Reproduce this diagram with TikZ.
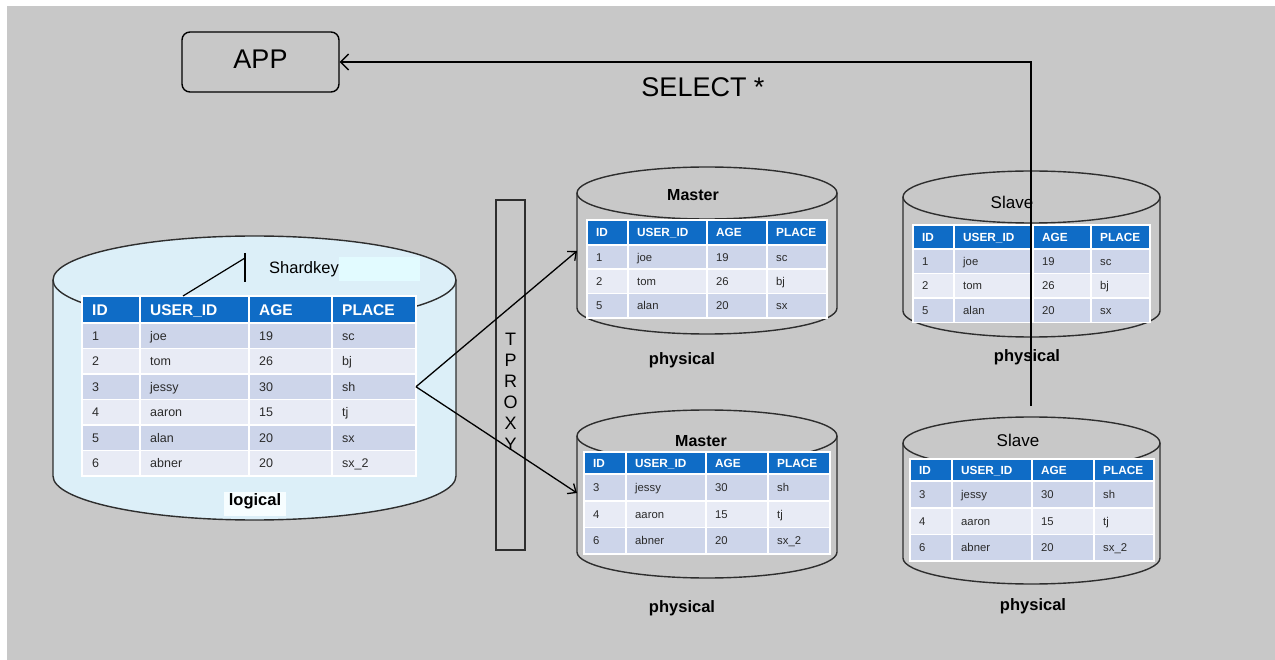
\documentclass[tikz,border=0pt]{standalone}
\usepackage{fontspec}
\setmainfont{Liberation Sans}
\usetikzlibrary{arrows.meta}
\definecolor{bg}{HTML}{C8C8C8}
\definecolor{hdrblue}{HTML}{0F6CC6}
\definecolor{rowA}{HTML}{CDD5EA}
\definecolor{rowB}{HTML}{E8EBF5}
\definecolor{logfill}{HTML}{DCEFF8}
\definecolor{cylc}{HTML}{2E2E2E}
\definecolor{txt}{HTML}{2A2A2A}
\definecolor{skbox}{HTML}{E2FBFF}
\definecolor{logwhite}{HTML}{F6FDFF}
\tikzset{
  cellline/.style={draw=white, line width=1.8pt},
  cylline/.style={draw=cylc, line width=1.4pt},
  conn/.style={draw=black, line width=1.3pt},
  tcell/.style={anchor=base west, inner sep=0pt},
  hdrL/.style={font=\fontsize{15.5}{18}\selectfont\bfseries, text=white},
  bodyL/.style={font=\fontsize{12.5}{15}\selectfont, text=txt},
  hdrS/.style={font=\fontsize{11.8}{14}\selectfont\bfseries, text=white},
  bodyS/.style={font=\fontsize{11.3}{14}\selectfont, text=txt},
  lab/.style={inner sep=0pt, anchor=base, text=black},
  boldlab/.style={lab, font=\fontsize{16.5}{19}\selectfont\bfseries},
  barb/.style={-{Straight Barb[length=7pt,width=12pt]}},
}
\def\setcols#1/#2/#3/#4/#5\relax{\def\xa{#1}\def\xb{#2}\def\xc{#3}\def\xd{#4}\def\xe{#5}}
\def\tpad{9.5}
% #1 name, #2 cols, #3 y0, #4 header height, #5 row height, #6 header style, #7 body style,
% \hfs / \bfs : header and body font sizes (for centring the caps)
\newcommand\mktable[7]{%
  \setcols#2\relax
  \foreach[count=\ci] \l/\r/\t in {\xa/\xb/ID,\xb/\xc/USER\_ID,\xc/\xd/AGE,\xd/\xe/PLACE}{%
    \draw[cellline, fill=hdrblue] (\l,-#3) rectangle (\r,-#3-#4);
    \node[tcell,#6] (#1-h\ci) at (\l+\tpad,-#3-#4/2-0.358*\hfs) {\t};
  }
  \foreach[count=\ri] \a/\b/\c/\d in \tabrows {%
    \pgfmathsetmacro\yt{#3+#4+(\ri-1)*#5}%
    \pgfmathsetmacro\yb{\yt+#5}%
    \pgfmathsetmacro\ym{\yt+#5/2}%
    \pgfmathsetmacro\ybl{\ym+0.358*\bfs}%
    \ifodd\ri\relax\def\rc{rowA}\else\def\rc{rowB}\fi
    \draw[cellline, fill=\rc] (\xa,-\yt) rectangle (\xb,-\yb);
    \draw[cellline, fill=\rc] (\xb,-\yt) rectangle (\xc,-\yb);
    \draw[cellline, fill=\rc] (\xc,-\yt) rectangle (\xd,-\yb);
    \draw[cellline, fill=\rc] (\xd,-\yt) rectangle (\xe,-\yb);
    \node[tcell,#7] (#1-r\ri-c1) at (\xa+\tpad,-\ybl) {\a};
    \node[tcell,#7] (#1-r\ri-c2) at (\xb+\tpad,-\ybl) {\b};
    \node[tcell,#7] (#1-r\ri-c3) at (\xc+\tpad,-\ybl) {\c};
    \node[tcell,#7] (#1-r\ri-c4) at (\xd+\tpad,-\ybl) {\d};
    \coordinate (#1-r\ri-e) at (\xe,-\ym);
  }
}
% #1 x1 #2 x2 #3 y top centre #4 y bottom centre #5 ry #6 fill
\newcommand\cyl[6]{%
  \pgfmathsetmacro\rx{(#2-#1)/2}%
  \pgfmathsetmacro\mx{(#1+#2)/2}%
  \fill[#6] (#1,-#3) -- (#1,-#4) arc[start angle=180,end angle=360,x radius=\rx,y radius=#5] -- (#2,-#3) -- cycle;
  \fill[#6] (\mx,-#3) ellipse[x radius=\rx, y radius=#5];
  \draw[cylline] (#1,-#3) -- (#1,-#4) arc[start angle=180,end angle=360,x radius=\rx,y radius=#5] -- (#2,-#3);
  \draw[cylline] (\mx,-#3) ellipse[x radius=\rx, y radius=#5];
}
\begin{document}
\begin{tikzpicture}[x=1pt,y=1pt]
\useasboundingbox (0,0) rectangle (1275,-660);
\fill[white] (0,0) rectangle (1275,-660);
\fill[bg] (7,-6) rectangle (1275,-660);

% APP
\node[draw=black, line width=1.4pt, rounded corners=8pt, minimum width=157pt, minimum height=60pt,
      font=\fontsize{27}{30}\selectfont, inner sep=0pt, text height=19.3pt, text depth=7pt] (app) at (260.5,-62) {APP};
\node[lab, font=\fontsize{27}{30}\selectfont] (sel) at (703,-96.2) {SELECT *};

% logical cylinder
\cyl{53}{456}{280}{476}{44}{logfill}
\fill[skbox] (339,-257) rectangle (420,-281);
\node[lab, font=\fontsize{16.5}{19}\selectfont] (shardkey) at (304,-273.9) {Shardkey};
\def\tpad{10}\def\hfs{15.5}\def\bfs{12.5}
\def\tabrows{1/joe/19/sc,2/tom/26/bj,3/jessy/30/sh,4/aaron/15/tj,5/alan/20/sx,6/abner/20/sx\_2}
\mktable{L}{82/140/249/332/416}{296}{27}{25.5}{hdrL}{bodyL}
\coordinate (sktop) at (245,-253);
\coordinate (skbot) at (245,-282);
\coordinate (skjoin) at (245,-258);
\coordinate (skkey) at (183,-296);
\draw[black, line width=1.2pt] (sktop) -- (skbot);
\draw[black, line width=1.2pt] (skjoin) -- (skkey);
\fill[logwhite] (224,-492) rectangle (286,-516);
\node[boldlab] (logical) at (255,-505) {logical};

% proxy
\node[draw=cylc, line width=1.3pt, minimum width=29pt, minimum height=350pt, inner sep=0pt] (proxy) at (510.5,-375) {};
\node[align=center, inner sep=0pt, font=\fontsize{18}{21}\selectfont] (proxytxt) at (510.5,-392) {T\\P\\R\\O\\X\\Y};

% master top
\def\tpad{9}\def\hfs{11.8}\def\bfs{11.3}
\cyl{577}{837}{193}{308}{26}{bg}
\def\tabrows{1/joe/19/sc,2/tom/26/bj,5/alan/20/sx}
\mktable{M1}{587/628/707/767/827}{220}{25}{24.3}{hdrS}{bodyS}
\node[lab, font=\fontsize{16}{19}\selectfont\bfseries] (m1lab) at (693,-200.7) {Master};
\node[boldlab] (m1phys) at (682,-364.9) {physical};

% slave top
\cyl{903}{1160}{197}{311}{26}{bg}
\mktable{S1}{913/954/1033/1091/1150}{225}{24}{24.5}{hdrS}{bodyS}
\node[lab, font=\fontsize{17}{20}\selectfont] (s1lab) at (1012,-208.1) {Slave};
\node[boldlab] (s1phys) at (1027,-361.9) {physical};

% master bottom
\cyl{577}{837}{436}{552}{26}{bg}
\def\tabrows{3/jessy/30/sh,4/aaron/15/tj,6/abner/20/sx\_2}
\mktable{M2}{584/626/706/768/830}{452}{22}{26.7}{hdrS}{bodyS}
\node[lab, font=\fontsize{16}{19}\selectfont\bfseries] (m2lab) at (701,-446.2) {Master};
\node[boldlab] (m2phys) at (682,-612.9) {physical};

% slave bottom
\cyl{903}{1160}{443}{558}{26}{bg}
\mktable{S2}{910/952/1032/1094/1154}{459}{22}{26.7}{hdrS}{bodyS}
\node[lab, font=\fontsize{17}{20}\selectfont] (s2lab) at (1018,-446.6) {Slave};
\node[boldlab] (s2phys) at (1033,-610.9) {physical};

% connectors
\coordinate (m1in) at (577,-251);
\coordinate (m2in) at (577,-493);
\draw[conn, barb] (L-r3-e) -- (m1in);
\draw[conn, barb] (L-r3-e) -- (m2in);
\coordinate (selstart) at (1031,-406);
\draw[conn, -{Straight Barb[length=8pt,width=16pt]}] (selstart) |- (app.east);
\end{tikzpicture}
\end{document}
